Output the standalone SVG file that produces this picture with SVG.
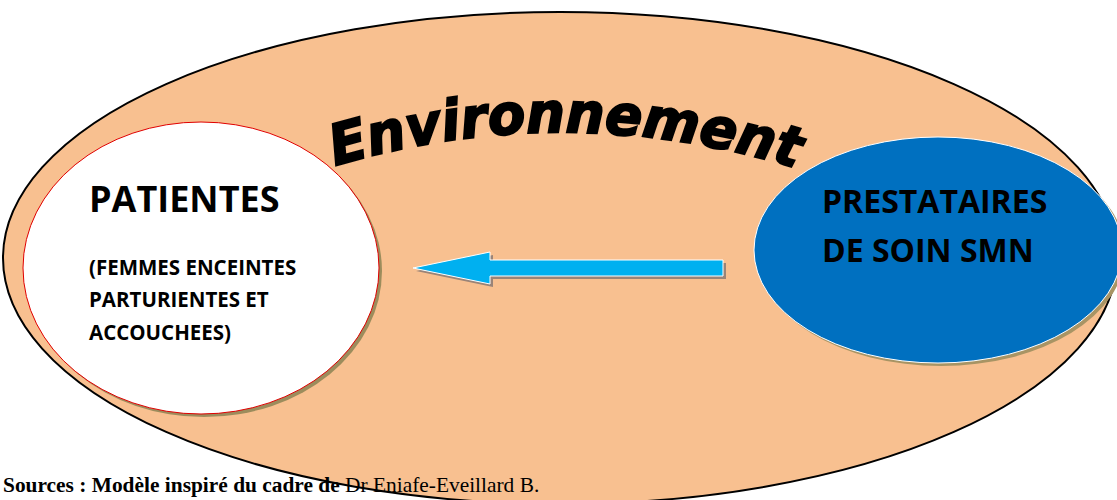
<svg xmlns="http://www.w3.org/2000/svg" width="1117" height="500" viewBox="0 0 1117 500">
<style>
.lbl{font-family:"Open Sans","Liberation Sans",sans-serif;font-weight:bold;fill:#000}
.src{font-family:"Liberation Serif",serif;font-size:21.4px;fill:#000}
</style>
<defs>
<path id="arc" d="M 335 166 Q 570 96 808 172"/>
</defs>
<rect width="1117" height="500" fill="#fff"/>
<g id="environnement">
<ellipse cx="560" cy="258" rx="557" ry="246" fill="#f8c090" stroke="#000" stroke-width="2"/>
<text font-family="'DejaVu Sans',sans-serif" font-weight="bold" font-style="italic" font-size="56" fill="#000" stroke="#000" stroke-width="2"><textPath href="#arc" textLength="468" lengthAdjust="spacingAndGlyphs">Environnement</textPath></text>
</g>
<g id="patientes">
<ellipse cx="204" cy="271" rx="178" ry="146" fill="#9c8c5c"/>
<ellipse cx="201" cy="268" rx="178" ry="146" fill="#fff" stroke="#e00000" stroke-width="1"/>
<text class="lbl" x="89" y="212" font-size="36">PATIENTES</text>
<text class="lbl" x="89" y="275" font-size="20.5">(FEMMES ENCEINTES</text>
<text class="lbl" x="89" y="307" font-size="20.5">PARTURIENTES ET</text>
<text class="lbl" x="89" y="340" font-size="20.5">ACCOUCHEES)</text>
</g>
<g id="prestataires">
<ellipse cx="941" cy="253" rx="184" ry="113" fill="#a89464"/>
<ellipse cx="938" cy="250" rx="184" ry="113" fill="#0070c0" stroke="#fff" stroke-width="1"/>
<text class="lbl" x="822" y="213" font-size="32">PRESTATAIRES</text>
<text class="lbl" x="822" y="262" font-size="32">DE SOIN SMN</text>
</g>
<g id="connectors">
<polygon points="416,271 493,255 493,263 726,263 726,279 493,279 493,287" fill="#9a8478"/>
<polygon points="413,268 490,252 490,260 723,260 723,276 490,276 490,284" fill="#00b0f0" stroke="#fff" stroke-width="1"/>
</g>
<text class="src" x="3" y="492"><tspan font-weight="bold">Sources : Modèle inspiré du cadre de </tspan>Dr Eniafe-Eveillard B.</text>
</svg>
